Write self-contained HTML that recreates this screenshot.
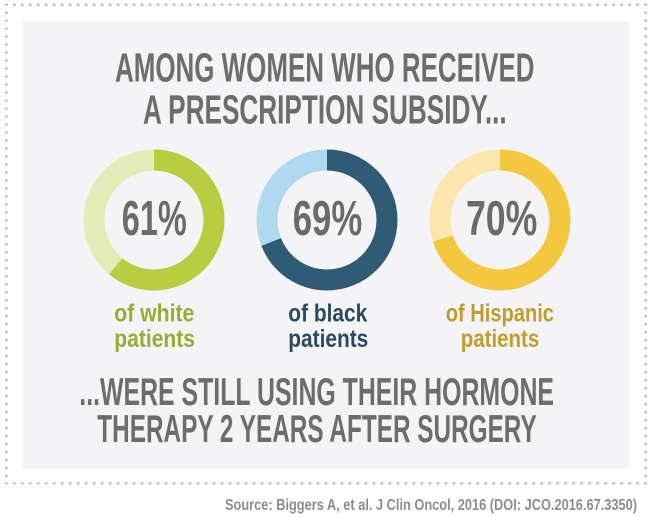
<!DOCTYPE html>
<html>
<head>
<meta charset="utf-8">
<style>
  html, body { margin: 0; padding: 0; background: #ffffff; }
  body { width: 650px; height: 517px; overflow: hidden; }
  svg { display: block; }
  text { font-family: "Liberation Sans", "DejaVu Sans", sans-serif; }
</style>
</head>
<body>
<svg width="650" height="517" viewBox="0 0 650 517" xmlns="http://www.w3.org/2000/svg">
  <rect x="0" y="0" width="650" height="517" fill="#ffffff"/>
  <!-- dotted border -->
  <g stroke="#b9b9be" stroke-width="2.7" stroke-linecap="round" stroke-dasharray="0 7.99" fill="none">
    <line x1="6.3" y1="4.7" x2="646" y2="4.7"/>
    <line x1="6.3" y1="483.3" x2="646" y2="483.3"/>
    <line x1="6.3" y1="4.7" x2="6.3" y2="484"/>
    <line x1="645.7" y1="4.7" x2="645.7" y2="484"/>
  </g>
  <!-- panel -->
  <rect x="22.7" y="21" width="606.3" height="447.7" fill="#f4f4f6"/>

  <!-- title -->
  <g fill="#6d6d6d" font-weight="bold" font-size="41">
    <text x="115" y="81.7" textLength="419.5" lengthAdjust="spacingAndGlyphs">AMONG WOMEN WHO RECEIVED</text>
    <text x="143" y="123.5" textLength="363.7" lengthAdjust="spacingAndGlyphs">A PRESCRIPTION SUBSIDY...</text>
  </g>

  <!-- donuts -->
  <g fill="none" stroke-width="21">
    <circle cx="154" cy="220" r="60" stroke="#e3ebb7"/>
    <circle cx="154" cy="220" r="60" stroke="#b9cd41" stroke-dasharray="229.96 400" transform="rotate(-90 154 220)"/>
    <circle cx="327" cy="220" r="60" stroke="#afd9f0"/>
    <circle cx="327" cy="220" r="60" stroke="#305b74" stroke-dasharray="260.12 400" transform="rotate(-90 327 220)"/>
    <circle cx="500" cy="220" r="60" stroke="#fbe7ae"/>
    <circle cx="500" cy="220" r="60" stroke="#f4c83e" stroke-dasharray="263.89 400" transform="rotate(-90 500 220)"/>
  </g>

  <!-- percents -->
  <g fill="#6b6b6b" font-weight="bold" font-size="49">
    <text x="121.7" y="235" textLength="65" lengthAdjust="spacingAndGlyphs">61%</text>
    <text x="292.7" y="235" textLength="69.6" lengthAdjust="spacingAndGlyphs">69%</text>
    <text x="466" y="235" textLength="71.3" lengthAdjust="spacingAndGlyphs">70%</text>
  </g>

  <!-- labels -->
  <g font-weight="bold" font-size="25">
    <text x="114.3" y="321.7" fill="#9cab36" textLength="80" lengthAdjust="spacingAndGlyphs">of white</text>
    <text x="114.3" y="347" fill="#9cab36" textLength="80.7" lengthAdjust="spacingAndGlyphs">patients</text>
    <text x="288.3" y="321.7" fill="#2b4a61" textLength="79" lengthAdjust="spacingAndGlyphs">of black</text>
    <text x="288.3" y="347" fill="#2b4a61" textLength="80" lengthAdjust="spacingAndGlyphs">patients</text>
    <text x="445.7" y="321.7" fill="#c09d2f" textLength="108.3" lengthAdjust="spacingAndGlyphs">of Hispanic</text>
    <text x="460.7" y="347" fill="#c09d2f" textLength="78.6" lengthAdjust="spacingAndGlyphs">patients</text>
  </g>

  <!-- bottom statement -->
  <g fill="#6d6d6d" font-weight="bold" font-size="38.5">
    <text x="79.3" y="405" textLength="474.7" lengthAdjust="spacingAndGlyphs">...WERE STILL USING THEIR HORMONE</text>
    <text x="97.3" y="442" textLength="439.4" lengthAdjust="spacingAndGlyphs">THERAPY 2 YEARS AFTER SURGERY</text>
  </g>

  <!-- source -->
  <text x="225" y="510" fill="#8c8c8c" font-weight="bold" font-size="16" textLength="412" lengthAdjust="spacingAndGlyphs">Source: Biggers A, et al. J Clin Oncol, 2016 (DOI: JCO.2016.67.3350)</text>
</svg>
</body>
</html>
